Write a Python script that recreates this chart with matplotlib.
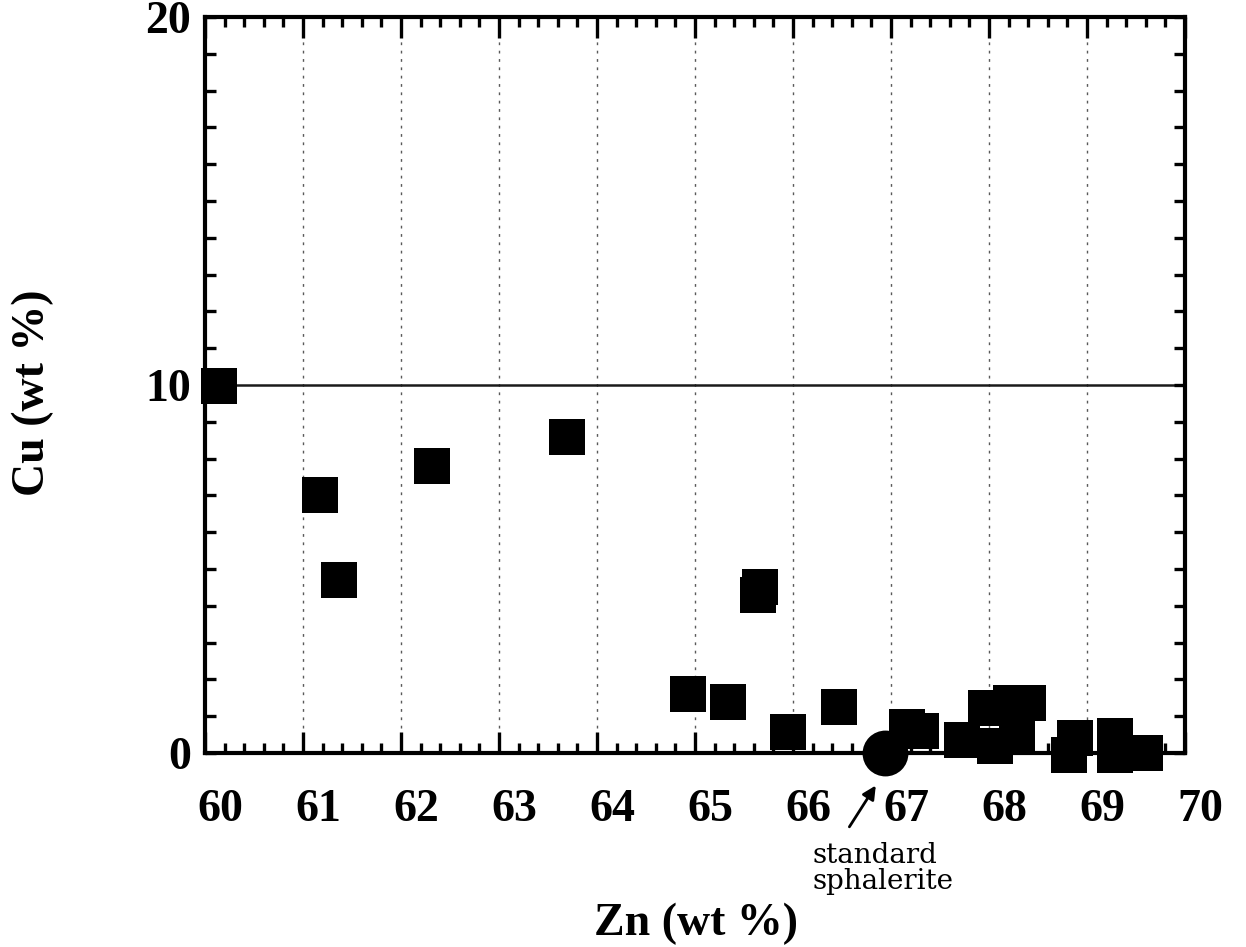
import matplotlib
matplotlib.use("Agg")
import matplotlib.pyplot as plt
from matplotlib.ticker import MultipleLocator
import matplotlib.transforms as mtransforms

# ---- data ----
zn = [60.14, 61.17, 61.37, 62.32, 63.69, 64.93, 65.34, 65.66, 65.64, 65.95,
      66.47, 67.16, 67.31, 67.72, 67.97, 68.06, 68.22, 68.40, 68.29, 68.82,
      68.88, 69.29, 69.29, 69.59]
cu = [9.97, 7.02, 4.69, 7.80, 8.59, 1.60, 1.38, 4.50, 4.28, 0.57,
      1.24, 0.71, 0.60, 0.35, 1.22, 0.20, 1.36, 1.36, 0.45, -0.05,
      0.41, 0.46, -0.05, 0.00]
std_zn = [66.94]
std_cu = [0.0]

x_ticks = [60, 61, 62, 63, 64, 65, 66, 67, 68, 69, 70]
y_ticks = [0, 10, 20]

plt.rcParams['font.family'] = ['Liberation Serif', 'DejaVu Serif']
plt.rcParams['font.weight'] = 'bold'

W, H = 1246, 947
fig = plt.figure(figsize=(W / 100, H / 100), dpi=100)
ax = fig.add_axes([205 / W, 1 - 753 / H, 980 / W, 736 / H])

ax.set_xlim(60, 70)
ax.set_ylim(0, 20)
ax.set_xticks(x_ticks)
ax.set_yticks(y_ticks)
ax.xaxis.set_minor_locator(MultipleLocator(0.2))
ax.yaxis.set_minor_locator(MultipleLocator(1))

ax.tick_params(which='both', direction='in', top=True, right=True,
               width=2.4, color='black', labelsize=33)
ax.tick_params(axis='x', which='major', length=15, pad=26)
ax.tick_params(axis='x', which='minor', length=7)
ax.tick_params(axis='y', which='major', length=8, pad=10)
ax.tick_params(axis='y', which='minor', length=8)
for s in ax.spines.values():
    s.set_linewidth(3)

ax.set_axisbelow(True)
ax.xaxis.grid(True, which='major', color='0.35', linewidth=1.0,
              linestyle=(0, (2, 4)))
ax.yaxis.grid(True, which='major', color='0.1', linewidth=1.8,
              linestyle='-')

ax.plot(zn, cu, 's', color='black', markersize=26.5, markeredgewidth=0,
        clip_on=False, zorder=3)
ax.plot(std_zn, std_cu, 'o', color='black', markersize=33,
        markeredgewidth=0, clip_on=False, zorder=3)

ax.annotate('', xy=(66.86, -0.82), xytext=(66.56, -2.07),
            xycoords='data', textcoords='data', annotation_clip=False,
            arrowprops=dict(arrowstyle='-|>', color='black', lw=2,
                            mutation_scale=20))

fig.text(812 / W, 1 - 842 / H, 'standard\nsphalerite', ha='left', va='top',
         fontsize=20, fontweight='normal', family='DejaVu Serif',
         linespacing=0.95)

fig.text(33 / W, 1 - 393 / H, 'Cu (wt %)', rotation=90, ha='center',
         va='center', fontsize=33, fontweight='bold')
fig.text(696 / W, 1 - 924 / H, 'Zn (wt %)', ha='center', va='center',
         fontsize=33, fontweight='bold')

fig.canvas.draw()
off = mtransforms.ScaledTranslation(15 / 100, 0, fig.dpi_scale_trans)
for lbl in ax.get_xticklabels():
    lbl.set_transform(lbl.get_transform() + off)

fig.savefig('out.png', dpi=100)
